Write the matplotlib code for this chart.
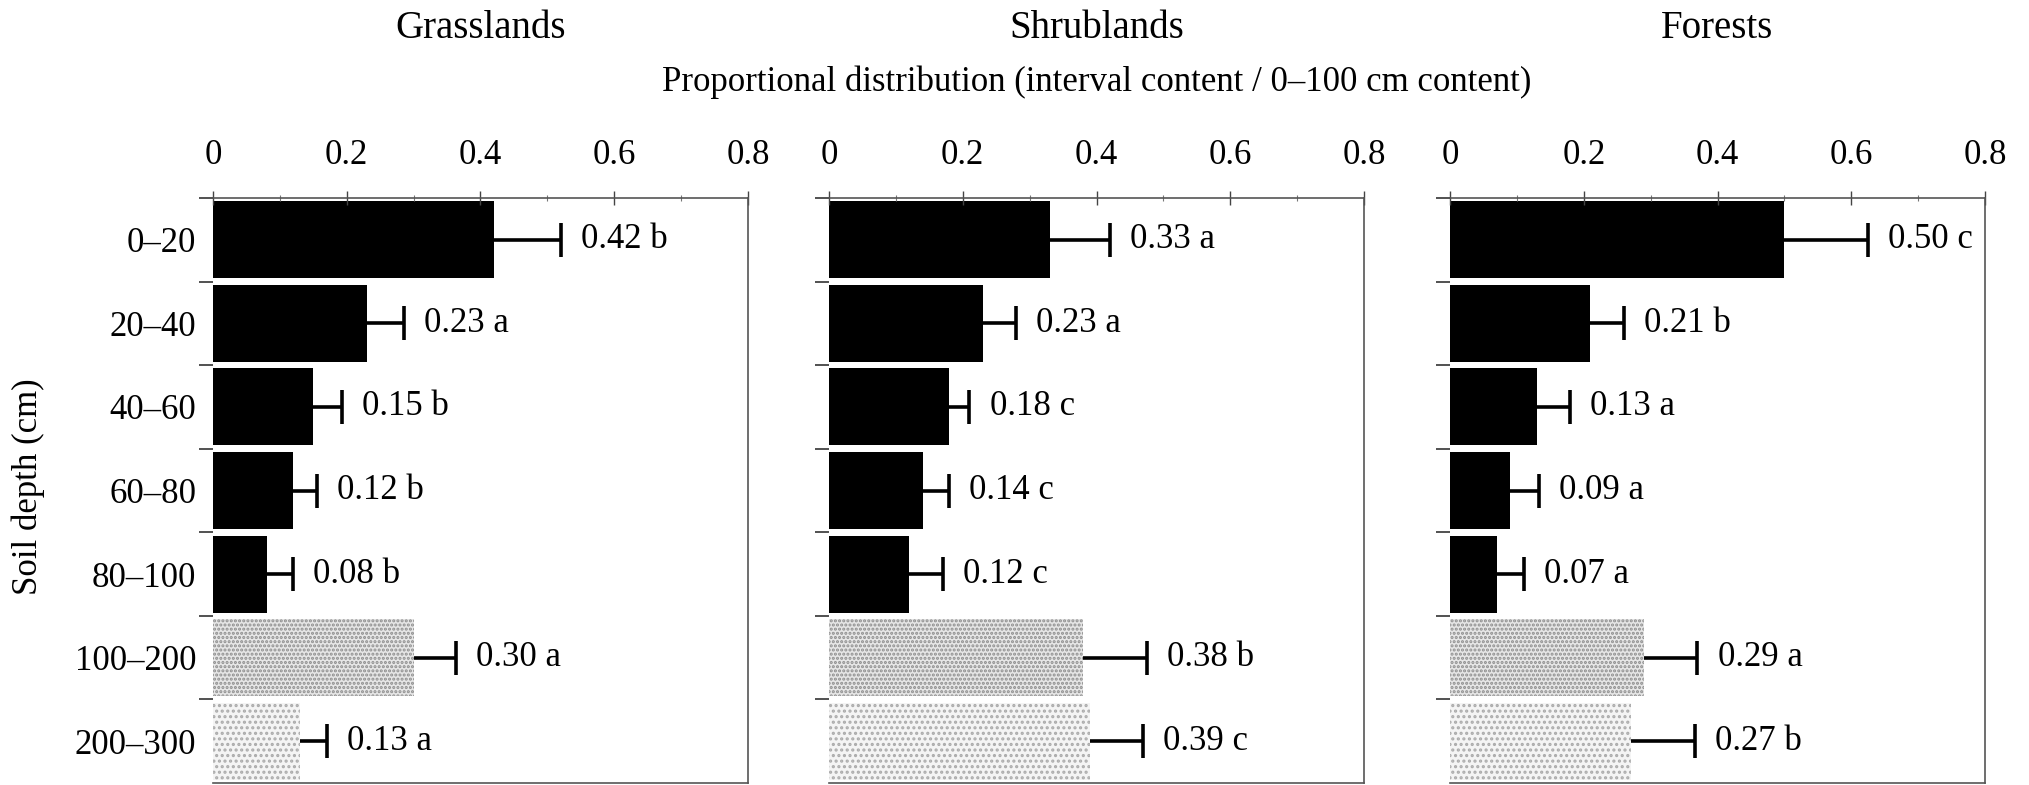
import matplotlib
matplotlib.use("Agg")
import matplotlib.pyplot as plt
import numpy as np

plt.rcParams["font.family"] = ["Liberation Serif", "DejaVu Serif"]
plt.rcParams["hatch.linewidth"] = 1.5

depths = ["0\u201320", "20\u201340", "40\u201360", "60\u201380", "80\u2013100", "100\u2013200", "200\u2013300"]
biomes = ["Grasslands", "Shrublands", "Forests"]

grass_vals = [0.42, 0.23, 0.15, 0.12, 0.08, 0.30, 0.13]
grass_err = [0.10, 0.055, 0.043, 0.035, 0.04, 0.064, 0.04]
grass_letters = ["b", "a", "b", "b", "b", "a", "a"]

shrub_vals = [0.33, 0.23, 0.18, 0.14, 0.12, 0.38, 0.39]
shrub_err = [0.09, 0.05, 0.03, 0.04, 0.05, 0.096, 0.08]
shrub_letters = ["a", "a", "c", "c", "c", "b", "c"]

forest_vals = [0.50, 0.21, 0.13, 0.09, 0.07, 0.29, 0.27]
forest_err = [0.125, 0.05, 0.05, 0.043, 0.04, 0.08, 0.097]
forest_letters = ["c", "b", "a", "a", "a", "a", "b"]

panels = [
    (grass_vals, grass_err, grass_letters),
    (shrub_vals, shrub_err, shrub_letters),
    (forest_vals, forest_err, forest_letters),
]

W, H = 2029, 785
fig = plt.figure(figsize=(W / 100, H / 100), dpi=100)

lefts = [213, 829, 1450]
width = 535
top, bottom = 198, 783

# deep layers (below 1 m) are drawn as stippled bars
deep_face = ["#e6e6e6", "#f4f4f4"]
deep_hatch = ["#8e8e8e", "#ababab"]
deep_pattern = ["....", "..."]

for i, (vals, err, letters) in enumerate(panels):
    ax = fig.add_axes([lefts[i] / W, (H - bottom) / H, width / W, (bottom - top) / H])
    y = np.arange(len(depths))
    for j in range(len(depths)):
        if j < 5:
            ax.barh(y[j], vals[j], height=0.92, color="black", linewidth=0)
        else:
            ax.barh(y[j], vals[j], height=0.92, facecolor=deep_face[j - 5],
                    edgecolor=deep_hatch[j - 5], hatch=deep_pattern[j - 5], linewidth=0)
        # one-sided error bar: line from bar end, cap only at the far end
        end = vals[j] + err[j]
        ax.plot([vals[j], end], [y[j], y[j]], color="black", lw=2.6, solid_capstyle="butt")
        ax.plot([end], [y[j]], marker="|", color="black", markersize=25, mew=2.6)
        ax.text(end + 0.03, y[j], f"{vals[j]:.2f} {letters[j]}",
                va="center", ha="left", fontsize=25)

    ax.set_xlim(0, 0.8)
    ax.set_ylim(6.5, -0.5)
    ax.xaxis.tick_top()
    ax.set_xticks([0, 0.2, 0.4, 0.6, 0.8])
    ax.set_xticklabels(["0", "0.2", "0.4", "0.6", "0.8"])
    ax.set_xticks([0.1, 0.3, 0.5, 0.7], minor=True)
    ax.tick_params(axis="x", which="major", direction="inout", length=10,
                   width=1, pad=14, labelsize=25, colors="#444444", labelcolor="black")
    ax.tick_params(axis="x", which="minor", direction="inout", length=5,
                   width=0.8, colors="#777777")

    ax.set_yticks(y)
    ax.set_yticks(np.arange(-0.5, 6.5, 1.0), minor=True)
    ax.tick_params(axis="y", which="major", length=0, pad=12, labelsize=25)
    ax.tick_params(axis="y", which="minor", direction="out", length=10,
                   width=1.2, colors="#333333")
    if i == 0:
        ax.set_yticklabels(depths)
    else:
        ax.set_yticklabels([])

    ax.spines["left"].set_visible(False)
    for side in ["top", "right", "bottom"]:
        ax.spines[side].set_linewidth(1.2)
        ax.spines[side].set_color("#555555")

    fig.text((lefts[i] + width / 2) / W, 1 - 28 / H, biomes[i],
             ha="center", va="center", fontsize=28)

fig.text((lefts[1] + width / 2) / W, 1 - 82 / H,
         "Proportional distribution (interval content / 0\u2013100 cm content)",
         ha="center", va="center", fontsize=25)
fig.text(28 / W, 0.38, "Soil depth (cm)", rotation=90,
         ha="center", va="center", fontsize=25)

fig.savefig("out.png", dpi=100)
